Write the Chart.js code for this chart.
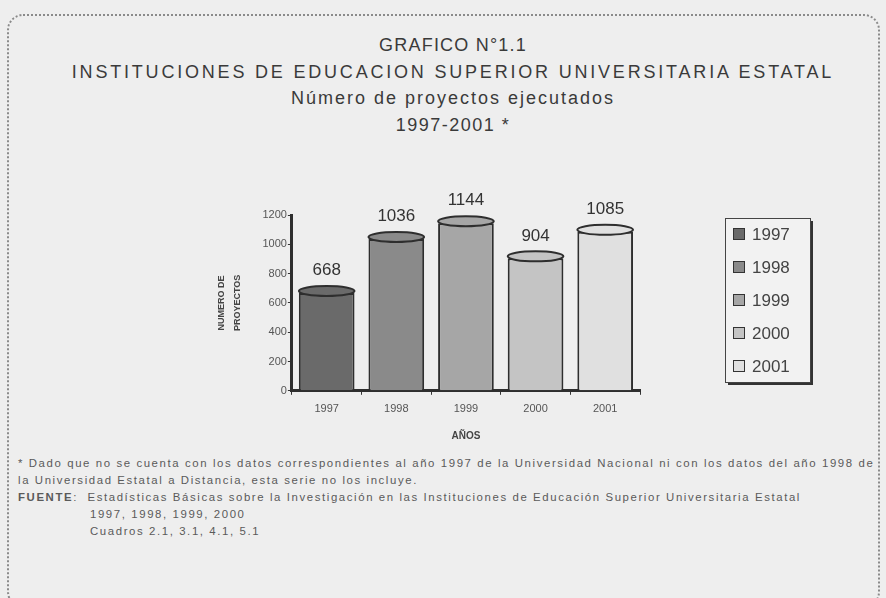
<!DOCTYPE html>
<html>
<head>
<meta charset="utf-8">
<script src="https://cdn.jsdelivr.net/npm/chart.js@4.4.1/dist/chart.umd.min.js"></script>
<style>
    html, body { margin: 0; padding: 0; }
    body {
        width: 886px; height: 598px; position: relative; overflow: hidden;
        background: #eeeeee;
        font-family: 'Liberation Sans', Arial, sans-serif;
    }
    .frame {
        position: absolute; left: 7px; top: 14px; width: 869px; height: 590px;
        border: 2px dotted #8a8a8a; border-radius: 16px;
    }
    .titles {
        position: absolute; left: 0; top: 32px; width: 906px; text-align: center;
        color: #3a3a3a; font-size: 18px; line-height: 26.7px;
    }
    .titles .t1 { letter-spacing: 1.2px; }
    .titles .t2 { letter-spacing: 2.8px; }
    .titles .t3 { letter-spacing: 2px; }
    .titles .t4 { letter-spacing: 1.5px; }
    .chart-box { position: absolute; left: 0; top: 140px; width: 886px; height: 310px; }
    .notes {
        position: absolute; left: 18px; top: 455px; color: #5a5a5a; font-size: 11.4px; line-height: 17px;
        white-space: nowrap; letter-spacing: 1.6px;
    }
    .notes .ind { padding-left: 72px; }
</style>
</head>
<body>
<div class="frame"></div>
<div class="titles">
    <div class="t1">GRAFICO N°1.1</div>
    <div class="t2">INSTITUCIONES DE EDUCACION SUPERIOR UNIVERSITARIA ESTATAL</div>
    <div class="t3">Número de proyectos ejecutados</div>
    <div class="t4">1997-2001 *</div>
</div>
<div class="chart-box"><canvas id="proyChart"></canvas></div>
<div class="notes">
    <div>* Dado que no se cuenta con los datos correspondientes al año 1997 de la Universidad Nacional ni con los datos  del año 1998 de</div>
    <div>la Universidad Estatal a Distancia, esta serie no los incluye.</div>
    <div><b>FUENTE</b>:&nbsp; Estadísticas Básicas sobre la Investigación en las Instituciones de Educación Superior Universitaria Estatal</div>
    <div class="ind">1997, 1998, 1999, 2000</div>
    <div class="ind">Cuadros 2.1, 3.1, 4.1, 5.1</div>
</div>
<script>
// Proyectos ejecutados por año
const years = ['1997', '1998', '1999', '2000', '2001'];
const projects = [668, 1036, 1144, 904, 1085];
const barColors = ['#6a6a6a', '#8a8a8a', '#a6a6a6', '#c4c4c4', '#e0e0e0'];
const yTicks = [0, 200, 400, 600, 800, 1000, 1200];

// Cylinder tops + value labels
const cylinderPlugin = {
    id: 'cylinder',
    afterDatasetsDraw(chart) {
        const ctx = chart.ctx;
        const meta = chart.getDatasetMeta(0);
        meta.data.forEach(function(bar, i) {
            ctx.save();
            ctx.beginPath();
            ctx.ellipse(bar.x, bar.y - 2, bar.width / 2, 5, 0, 0, Math.PI * 2);
            ctx.fillStyle = barColors[i];
            ctx.fill();
            ctx.lineWidth = 2;
            ctx.strokeStyle = '#2e2e2e';
            ctx.stroke();
            ctx.fillStyle = '#333';
            ctx.font = "17px 'Liberation Sans', Arial, sans-serif";
            ctx.textAlign = 'center';
            ctx.textBaseline = 'bottom';
            ctx.fillText(String(projects[i]), bar.x, bar.y - 14);
            ctx.restore();
        });
    }
};

// Boxed legend at the right
const boxLegendPlugin = {
    id: 'boxLegend',
    afterDraw(chart) {
        const ctx = chart.ctx;
        const area = chart.chartArea;
        const left = area.right + 85, top = area.top + 3, w = 85, h = 164;
        ctx.save();
        ctx.fillStyle = '#333';
        ctx.fillRect(left + 3, top + 3, w, h);
        ctx.fillStyle = '#f2f2f2';
        ctx.fillRect(left, top, w, h);
        ctx.strokeStyle = '#444';
        ctx.lineWidth = 1;
        ctx.strokeRect(left + 0.5, top + 0.5, w, h);
        ctx.font = "17px 'Liberation Sans', Arial, sans-serif";
        ctx.textBaseline = 'middle';
        years.forEach(function(y, i) {
            const cy = top + 16 + i * 33;
            ctx.fillStyle = barColors[i];
            ctx.fillRect(left + 8, cy - 6, 12, 12);
            ctx.strokeStyle = '#333';
            ctx.strokeRect(left + 8.5, cy - 5.5, 11, 11);
            ctx.fillStyle = '#444';
            ctx.fillText(y, left + 27, cy + 1);
        });
        ctx.restore();
    }
};

new Chart(document.getElementById('proyChart'), {
    type: 'bar',
    data: {
        labels: years,
        datasets: [{
            data: projects,
            backgroundColor: barColors,
            borderColor: '#2e2e2e',
            borderWidth: 2,
            barPercentage: 0.8,
            categoryPercentage: 1.0
        }]
    },
    options: {
        responsive: true,
        maintainAspectRatio: false,
        animation: false,
        layout: { padding: { left: 213, right: 246, top: 75, bottom: 8 } },
        plugins: {
            legend: { display: false },
            tooltip: { enabled: false }
        },
        scales: {
            x: {
                grid: { drawOnChartArea: false, drawTicks: true, tickLength: 4, color: '#333' },
                border: { color: '#2e2e2e', width: 3 },
                ticks: {
                    color: '#555',
                    padding: 8,
                    font: { size: 11, family: "'Liberation Sans', Arial, sans-serif" }
                },
                title: {
                    display: true,
                    text: 'AÑOS',
                    color: '#444',
                    font: { size: 10, weight: 'bold', family: "'Liberation Sans', Arial, sans-serif" },
                    padding: { top: 6, bottom: 0 }
                }
            },
            y: {
                min: 0,
                max: 1200,
                afterBuildTicks: function(scale) {
                    scale.ticks = yTicks.map(v => ({ value: v }));
                },
                grid: { drawOnChartArea: false, drawTicks: true, tickLength: 4, color: '#333' },
                border: { color: '#2e2e2e', width: 3 },
                ticks: {
                    color: '#555',
                    padding: 1,
                    font: { size: 11, family: "'Liberation Sans', Arial, sans-serif" },
                    callback: function(value) { return String(value); }
                },
                title: {
                    display: true,
                    text: ['NUMERO DE', 'PROYECTOS'],
                    color: '#444',
                    font: { size: 9, weight: 'bold', lineHeight: 1.8, family: "'Liberation Sans', Arial, sans-serif" },
                    padding: { top: 0, bottom: 16 }
                }
            }
        }
    },
    plugins: [cylinderPlugin, boxLegendPlugin]
});
</script>
</body>
</html>
